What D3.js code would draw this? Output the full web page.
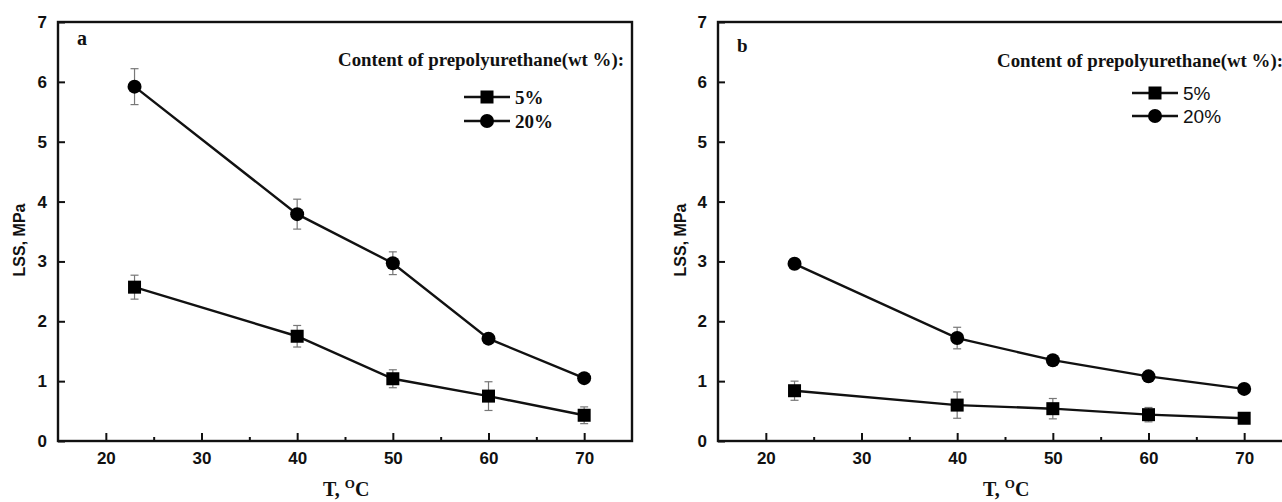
<!DOCTYPE html>
<html lang="en">
<head>
<meta charset="utf-8">
<title>LSS vs temperature</title>
<style>
  body { margin: 0; background: #fff; }
  svg { display: block; }
  .tick text { font-family: "Liberation Sans", Arial, sans-serif; font-weight: bold; font-size: 17px; fill: #111; }
  .serif { font-family: "Liberation Serif", "Times New Roman", serif; font-weight: bold; fill: #111; }
  .sans { font-family: "Liberation Sans", Arial, sans-serif; fill: #111; }
</style>
<script src="https://d3js.org/d3.v7.min.js"></script>
</head>
<body>
<div id="chart"></div>
<script>
// data
var temps = [23, 40, 50, 60, 70];
var xTicks = [20, 30, 40, 50, 60, 70];
var xMinor = [25, 35, 45, 55, 65];
var yTicks = [0, 1, 2, 3, 4, 5, 6, 7];
var seriesNames = ["5%", "20%"];

var lssA5 = [2.57, 1.75, 1.04, 0.75, 0.43];
var errA5 = [0.20, 0.18, 0.15, 0.24, 0.14];
var lssA20 = [5.92, 3.79, 2.97, 1.71, 1.05];
var errA20 = [0.30, 0.25, 0.19, 0.05, 0.05];

var lssB5 = [0.84, 0.60, 0.54, 0.44, 0.38];
var errB5 = [0.16, 0.22, 0.17, 0.12, 0.04];
var lssB20 = [2.96, 1.72, 1.35, 1.08, 0.87];
var errB20 = [0.08, 0.18, 0.05, 0.05, 0.04];

var W = 1282, H = 502;
var svg = d3.select('#chart').append('svg').attr('width', W).attr('height', H);

function drawPanel(p) {
  var x = d3.scaleLinear().domain([15, 75]).range([p.left, p.left + 574]);
  var y = d3.scaleLinear().domain([0, 7]).range([441, 22]);
  var g = svg.append('g');

  // axes
  var yAxis = d3.axisLeft(y).tickValues(yTicks).tickFormat(d3.format('d')).tickSize(-7).tickPadding(11);
  var gy = g.append('g').attr('transform', 'translate(' + p.left + ',0)').call(yAxis);
  var xAxis = d3.axisBottom(x).tickValues(xTicks).tickFormat(d3.format('d')).tickSize(-8).tickPadding(11);
  var gx = g.append('g').attr('transform', 'translate(0,441)').call(xAxis);
  var xAxisMinor = d3.axisBottom(x).tickValues(xMinor).tickFormat('').tickSize(-4);
  var gm = g.append('g').attr('transform', 'translate(0,441)').call(xAxisMinor);
  [gy, gx, gm].forEach(function(a) {
    a.select('.domain').remove();
    a.selectAll('.tick line').attr('stroke', '#111').attr('stroke-width', 2);
  });

  g.append('rect')
    .attr('x', x(15)).attr('y', y(7))
    .attr('width', x(75) - x(15)).attr('height', y(0) - y(7))
    .attr('fill', 'none').attr('stroke', '#111').attr('stroke-width', 2.4);

  // series
  var line = d3.line().x(function(d) { return x(d.t); }).y(function(d) { return y(d.v); });
  p.series.forEach(function(s) {
    var pts = temps.map(function(t, i) { return {t: t, v: s.vals[i], e: s.errs[i]}; });
    g.append('path').datum(pts).attr('d', line)
      .attr('fill', 'none').attr('stroke', '#111').attr('stroke-width', 2.4);

    var eb = g.selectAll(null).data(pts).enter().append('g').attr('stroke', '#777').attr('stroke-width', 1.2);
    eb.append('line')
      .attr('x1', function(d) { return x(d.t); }).attr('x2', function(d) { return x(d.t); })
      .attr('y1', function(d) { return y(d.v + d.e); }).attr('y2', function(d) { return y(d.v - d.e); });
    eb.append('line')
      .attr('x1', function(d) { return x(d.t) - 4; }).attr('x2', function(d) { return x(d.t) + 4; })
      .attr('y1', function(d) { return y(d.v + d.e); }).attr('y2', function(d) { return y(d.v + d.e); });
    eb.append('line')
      .attr('x1', function(d) { return x(d.t) - 4; }).attr('x2', function(d) { return x(d.t) + 4; })
      .attr('y1', function(d) { return y(d.v - d.e); }).attr('y2', function(d) { return y(d.v - d.e); });

    if (s.shape === 'square') {
      g.selectAll(null).data(pts).enter().append('rect')
        .attr('x', function(d) { return x(d.t) - 6.5; }).attr('y', function(d) { return y(d.v) - 6.5; })
        .attr('width', 13).attr('height', 13).attr('fill', '#000');
    } else {
      g.selectAll(null).data(pts).enter().append('circle')
        .attr('cx', function(d) { return x(d.t); }).attr('cy', function(d) { return y(d.v); })
        .attr('r', 7).attr('fill', '#000');
    }
  });

  // panel letter
  g.append('text').attr('class', 'serif').attr('x', p.left + p.letterDx).attr('y', p.letterY)
    .style('font-size', p.letterSize).style('font-weight', 900).text(p.letter);

  // axis titles
  g.append('text').attr('class', 'sans')
    .attr('transform', 'translate(' + p.yTitleX + ',240) rotate(-90)')
    .attr('text-anchor', 'middle').style('font-size', '16px').style('font-weight', 'bold').text('LSS, MPa');
  var xt = g.append('text').attr('class', 'serif').attr('x', p.xTitleX).attr('y', 496).style('font-size', '20px');
  xt.append('tspan').text('T, ');
  xt.append('tspan').attr('dy', -8).style('font-size', '13px').text('O');
  xt.append('tspan').attr('dy', 8).text('C');

  // legend
  g.append('text').attr('class', 'serif').attr('x', p.legTitleX).attr('y', p.legTitleY)
    .attr('textLength', 286).attr('lengthAdjust', 'spacingAndGlyphs')
    .style('font-size', '18px').text('Content of prepolyurethane(wt %):');
  seriesNames.forEach(function(name, i) {
    var ly = p.legY + i * p.legGap;
    var lx = p.legX;
    g.append('line').attr('x1', lx).attr('x2', lx + 46).attr('y1', ly).attr('y2', ly)
      .attr('stroke', '#111').attr('stroke-width', 2.4);
    if (p.series[i].shape === 'square') {
      g.append('rect').attr('x', lx + 23 - 6.5).attr('y', ly - 6.5).attr('width', 13).attr('height', 13).attr('fill', '#000');
    } else {
      g.append('circle').attr('cx', lx + 23).attr('cy', ly).attr('r', 7).attr('fill', '#000');
    }
    var t = g.append('text').attr('x', lx + 51).attr('y', ly + 6.5).text(name);
    if (p.legSans) {
      t.attr('class', 'sans').style('font-size', '19px');
    } else {
      t.attr('class', 'serif').style('font-size', '19px');
    }
  });
}

drawPanel({
  left: 58, letter: 'a', letterDx: 19, letterY: 45, letterSize: '20px',
  yTitleX: 25, xTitleX: 323,
  legTitleX: 338, legTitleY: 66, legX: 464, legY: 97, legGap: 24, legSans: false,
  series: [
    {shape: 'square', vals: lssA5, errs: errA5},
    {shape: 'circle', vals: lssA20, errs: errA20}
  ]
});

drawPanel({
  left: 718, letter: 'b', letterDx: 19, letterY: 52, letterSize: '19px',
  yTitleX: 686, xTitleX: 983,
  legTitleX: 997, legTitleY: 67, legX: 1132, legY: 93, legGap: 23, legSans: true,
  series: [
    {shape: 'square', vals: lssB5, errs: errB5},
    {shape: 'circle', vals: lssB20, errs: errB20}
  ]
});
</script>
</body>
</html>
